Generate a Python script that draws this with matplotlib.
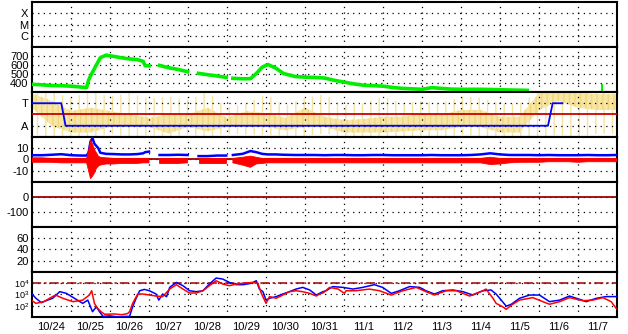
import numpy as np
from matplotlib import pyplot as plt

nan = np.nan

# day labels (each label sits at noon of its day)
days = ['10/24', '10/25', '10/26', '10/27', '10/28', '10/29', '10/30', '10/31',
        '11/1', '11/2', '11/3', '11/4', '11/5', '11/6', '11/7']

# solar wind: time in days from 10/24 00UT
sw_t = [0.0, 0.25, 0.5, 0.75, 1.0, 1.25, 1.4,
        1.45, 1.5, 1.55, 1.6, 1.65, 1.7, 1.75,
        1.9, 2.1, 2.3, 2.5, 2.7, 2.85, 2.9, 3.0,
        3.1,
        3.27, 3.5, 3.75, 3.99,
        4.1,
        4.27, 4.5, 4.75, 4.98,
        5.05,
        5.15, 5.4, 5.6, 5.75, 5.9, 6.05, 6.25, 6.45, 6.75,
        7.0, 7.25, 7.5, 7.75, 8.0, 8.25, 8.5, 8.75, 9.0, 9.25, 9.5, 9.75,
        10.0, 10.25, 10.5, 10.75, 11.0, 11.25, 11.5, 11.75, 12.0, 12.25, 12.5,
        12.7, 12.75, 13.0, 13.25, 13.5, 13.75, 14.0, 14.25, 14.5, 14.75, 15.0]

speed = [385, 380, 372, 370, 365, 355, 350,
         430, 480, 520, 560, 600, 640, 680,
         710, 695, 680, 667, 660, 640, 592, 590,
         nan,
         595, 570, 550, 525,
         nan,
         507, 492, 478, 462,
         nan,
         452, 447, 448, 505, 575, 605, 565, 505, 472,
         465, 462, 455, 430, 410, 390, 375, 370, 365, 350, 340, 335,
         330, 348, 340, 332, 330, 330, 330, 328, 325, 322, 320,
         318, nan, nan, nan, nan, nan, nan, nan, nan, nan, nan]

bt = [3.8, 3.8, 4.2, 4.7, 3.8, 3.5, 3.5,
      6, 16, 19, 14, 12, 10, 6,
      5, 4.8, 4.5, 4.5, 4.8, 5.5, 6.5, 7,
      nan,
      4, 4, 4.2, 4,
      nan,
      3, 3, 3.5, 3.5,
      nan,
      4, 5, 7.5, 6.5, 5, 4.5, 4.5, 4.2, 4,
      4, 4, 3.8, 4, 4, 3.8, 3.8, 4, 4, 3.8, 3.8, 3.8,
      3.8, 4, 3.8, 3.8, 3.8, 4, 4.5, 5.5, 4.5, 4, 4,
      4, 4, 3.8, 4, 3.8, 3.8, 3.8, 4, 3.8, 3.8, 4]

bz_lo = [-2.5, -2.5, -2.5, -3, -3, -3, -3,
         -10, -17, -15, -12, -8, -6, -5,
         -4, -4, -3.5, -3.5, -3.5, -3, -3, -3,
         nan,
         -3.5, -3.5, -3.5, -3,
         nan,
         -3, -3, -3, -3,
         nan,
         -3, -5, -7, -4, -3.5, -3, -3, -3, -3,
         -3, -3, -3, -3, -3, -3, -3, -3, -3, -3, -3, -3,
         -3, -3, -3, -3, -3, -3, -3, -4.5, -4, -3, -2.5,
         -2.5, -2.5, -2.5, -2, -2, -2, -2.5, -2, -2, -2, -2]

bz_hi = [1.5, 1.5, 1, 1, 1, 1, 1,
         8, 17, 14, 9, 6, 3, 2,
         1.5, 1, 1, 1, 1, 1, 1, 1,
         nan,
         1, 1, 1, 1,
         nan,
         1, 1, 1, 1,
         nan,
         1, 2, 3, 2, 1, 1, 1, 1, 1,
         1, 1, 1, 1, 1, 1, 1, 1, 1, 1, 1, 1,
         1, 1, 1, 1, 1, 1, 1, 2, 1, 1, 1,
         1, 1, 1, 1, 1, 1, 1, 1, 1, 1, 1]

spike_t = [14.62]
spike_v = [390]

# T/A panel: yellow scatter envelope (0=bottom .. 4=top), blue state line
yel_t = [0.0, 0.5, 1.0, 1.5, 2.0, 2.5, 3.0, 3.5, 4.0, 4.5, 5.0, 5.5, 6.0, 6.5, 7.0,
         7.5, 8.0, 8.5, 9.0, 9.5, 10.0, 10.5, 11.0, 11.5, 12.0, 12.5, 13.0, 13.5,
         14.0, 14.5, 15.0]
yel_core_lo = [2.6, 1.0, 0.4, 0.4, 0.9, 0.9, 0.9, 0.3, 0.9, 0.5, 0.9, 0.9, 0.9, 0.6, 0.9,
               0.9, 0.4, 0.4, 0.4, 0.5, 0.6, 0.6, 0.9, 0.9, 0.4, 0.4, 2.4, 3.2, 2.6, 2.4, 2.4]
yel_core_hi = [3.9, 3.2, 2.3, 2.6, 2.3, 2.0, 1.7, 2.0, 2.0, 2.6, 1.7, 2.3, 2.1, 1.7, 2.6,
               1.8, 1.5, 1.6, 1.8, 1.8, 2.1, 2.0, 2.4, 2.4, 1.8, 1.8, 3.9, 4.0, 3.9, 3.8, 3.8]
yel_out_lo = [0.3, 0.0, 0.0, 0.0, 0.3, 0.0, 0.2, 0.0, 0.2, 0.0, 0.3, 0.2, 0.2, 0.1, 0.1,
              0.3, 0.0, 0.0, 0.0, 0.0, 0.1, 0.0, 0.2, 0.1, 0.0, 0.0, 0.0, 0.2, 0.0, 0.3, 0.3]
yel_out_hi = [4.0, 4.0, 3.5, 4.0, 3.6, 3.9, 3.4, 3.6, 3.3, 4.0, 2.6, 3.0, 3.8, 2.8, 3.5,
              3.8, 2.8, 3.0, 3.6, 3.0, 3.2, 3.0, 3.6, 3.5, 3.0, 3.0, 4.0, 4.0, 4.0, 4.0, 4.0]
state_t = [0.0, 0.75, 0.86, 13.23, 13.35, 13.6]
state_v = [3, 3, 1, 1, 3, 3]

# electron flux (log10)
e_blue_t = [0.0, 0.1, 0.24, 0.36, 0.53, 0.71, 0.88, 1.13, 1.3, 1.43, 1.5, 1.55, 1.65, 1.73,
            1.82, 2.0, 2.2, 2.4, 2.5, 2.58, 2.67, 2.76, 2.88, 3.01, 3.18, 3.25, 3.35, 3.45,
            3.53, 3.7, 3.87, 4.04, 4.21, 4.38, 4.55, 4.72, 4.89, 5.06, 5.24, 5.41, 5.62,
            5.75, 5.83, 5.92, 6.0, 6.09, 6.26, 6.43, 6.6, 6.77, 6.94, 7.12, 7.29, 7.37,
            7.46, 7.54, 7.71, 7.97, 8.23, 8.48, 8.78, 8.99, 9.21, 9.42, 9.68, 9.94, 10.1,
            10.32, 10.53, 10.79, 11.05, 11.3, 11.56, 11.77, 11.9, 12.03, 12.16, 12.29,
            12.5, 12.76, 13.01, 13.27, 13.53, 13.78, 14.04, 14.21, 14.47, 14.72, 14.98]
e_blue = [3.04, 2.66, 2.27, 2.45, 2.66, 3.25, 3.1, 2.57, 2.21, 2.5, 1.9, 1.47, 1.9, 1.47,
          1.05, 1.1, 1.0, 1.05, 1.05, 1.9, 2.66, 3.33, 3.45, 3.33, 3.04, 2.5, 3.04, 2.8,
          3.63, 4.07, 3.78, 3.33, 3.25, 3.33, 3.93, 4.46, 4.37, 4.07, 3.87, 3.87, 3.99,
          4.22, 3.48, 3.25, 2.5, 2.66, 2.81, 3.04, 3.25, 3.48, 3.63, 3.4, 2.95, 3.1,
          3.25, 3.33, 3.7, 3.63, 3.48, 3.63, 3.87, 3.63, 3.1, 3.33, 3.7, 3.63, 3.33,
          3.04, 3.33, 3.4, 3.25, 2.95, 3.33, 3.4, 3.04, 2.5, 1.96, 2.13,
          2.66, 2.95, 2.95, 2.36, 2.5, 2.86, 2.57, 2.36, 2.66, 2.81, 2.81]
e_red_t = [0.0, 0.1, 0.3, 0.45, 0.6, 0.79, 1.05, 1.3, 1.47, 1.53, 1.6, 1.68, 1.77, 1.86,
           2.1, 2.3, 2.45, 2.5, 2.58, 2.71, 2.84, 3.01, 3.18, 3.35, 3.53, 3.7, 3.87, 4.04,
           4.21, 4.38, 4.55, 4.72, 4.89, 5.06, 5.24, 5.41, 5.66, 5.79, 5.88, 6.0, 6.09,
           6.26, 6.43, 6.6, 6.77, 6.94, 7.12, 7.29, 7.37, 7.46, 7.63, 7.85, 8.01, 8.05,
           8.3, 8.65, 8.91, 9.21, 9.51, 9.85, 10.1, 10.32, 10.62, 10.88, 11.22, 11.56,
           11.64, 11.82, 11.9, 12.07, 12.16, 12.29, 12.5, 12.84, 13.1, 13.27, 13.53,
           13.78, 14.12, 14.38, 14.64, 14.85, 14.98]
e_red = [2.45, 2.21, 2.36, 2.66, 2.95, 2.66, 2.36, 2.5, 2.95, 3.33, 2.21, 1.77, 1.47, 1.24,
         1.27, 1.2, 1.3, 1.47, 2.21, 3.04, 3.04, 2.95, 2.86, 2.81, 3.48, 3.87, 3.48, 3.13,
         3.13, 3.33, 3.78, 4.22, 3.93, 3.78, 3.93, 3.99, 4.07, 3.99, 3.1, 2.21, 2.81,
         2.66, 2.95, 3.25, 3.33, 3.25, 3.1, 2.86, 3.04, 3.13, 3.63, 3.48, 3.1, 3.33,
         3.33, 3.48, 3.33, 2.95, 3.33, 3.63, 3.25, 2.95, 3.33, 3.33, 2.86, 3.33,
         3.48, 2.66, 2.21, 1.9, 1.68, 2.05, 2.5, 2.72, 2.36, 2.13, 2.36,
         2.72, 2.45, 2.5, 2.72, 2.36, 1.77]

plt.rcParams['font.family'] = ['Liberation Sans', 'DejaVu Sans']
plt.rcParams['font.size'] = 8
plt.rcParams['mathtext.default'] = 'regular'
plt.rcParams['hatch.linewidth'] = 1.0

fig, axs = plt.subplots(7, 1, sharex=True, figsize=(6.28, 3.34), dpi=100)
fig.subplots_adjust(left=0.051, right=0.9825, top=0.994, bottom=0.051, hspace=0)

#   panel ranges, ticks and tick labels
ylims = [(0, 4), (300, 800), (0, 4), (-20, 20), (-200, 100), (0, 80), (1, 5)]
yticks = [[1, 2, 3], [400, 500, 600, 700], [1, 3], [-10, 0, 10], [-100, 0],
          [20, 40, 60], [2, 3, 4]]
ylabels = [['C', 'M', 'X'], ['400', '500', '600', '700'], ['A', 'T'], ['-10', '0', '10'],
           ['-100', '0'], ['20', '40', '60'],
           [r'$10^{2}$', r'$10^{3}$', r'$10^{4}$']]

dots = (0, (1, 3.5))
for ax, yl, yt, lab in zip(axs, ylims, yticks, ylabels):
    ax.set_xlim(0, 15)
    ax.set_ylim(*yl)
    ax.set_yticks(yt)
    ax.set_yticklabels(lab)
    ax.set_xticks(np.arange(1, 15))
    ax.set_xticks(np.arange(15) + 0.5, minor=True)
    ax.set_xticklabels([])
    ax.tick_params(which='both', length=0)
    ax.tick_params(axis='y', pad=2.5)
    ax.tick_params(axis='x', which='minor', pad=3.5, labelbottom=False)
    ax.grid(True, which='major', color='black', linestyle=dots, linewidth=0.9)
    for s in ax.spines.values():
        s.set_linewidth(1.5)

axs[-1].set_xticklabels(days, minor=True)
axs[-1].tick_params(axis='x', which='minor', labelbottom=True)
axs[-1].tick_params(axis='y', labelsize=6.5, pad=2)

#   solar wind speed
axs[1].plot(sw_t, speed, color='#00ee00', lw=2.6, zorder=3)
axs[1].vlines(spike_t, 300, spike_v, color='#00ee00', lw=1.5, zorder=3)

#   T/A panel: speckled yellow data drawn as hatched envelopes
axs[2].fill_between(yel_t, yel_out_lo, yel_out_hi, facecolor='none', edgecolor='#f5e3a0',
                    hatch='||', lw=0, zorder=1)
axs[2].fill_between(yel_t, yel_core_lo, yel_core_hi, facecolor='#f8e7a4', edgecolor='#f1d67c',
                    hatch='|||', lw=0, zorder=1)
axs[2].axhline(2, color='#cc0000', lw=1.3, zorder=3)
axs[2].plot(state_t, state_v, color='#0000ff', lw=1.3, zorder=4)

#   IMF
axs[3].axhline(0, color='#a00000', lw=1.3, zorder=2)
axs[3].plot(sw_t, bt, color='#0000ff', lw=1.8, zorder=3)
axs[3].fill_between(sw_t, bz_lo, bz_hi, color='#ff0000', lw=0.6, edgecolor='#ff0000', zorder=4)

#   Dst
axs[4].axhline(0, color='#a00000', lw=1.3, zorder=2)

#   electrons
axs[6].axhline(4, color='#a00000', lw=1.1, dashes=(6, 2, 1.5, 2), zorder=2)
axs[6].plot(e_blue_t, e_blue, color='#0000ff', lw=1.1, zorder=3)
axs[6].plot(e_red_t, e_red, color='#ff0000', lw=1.1, zorder=4)

fig.savefig('out.png', dpi=100)
